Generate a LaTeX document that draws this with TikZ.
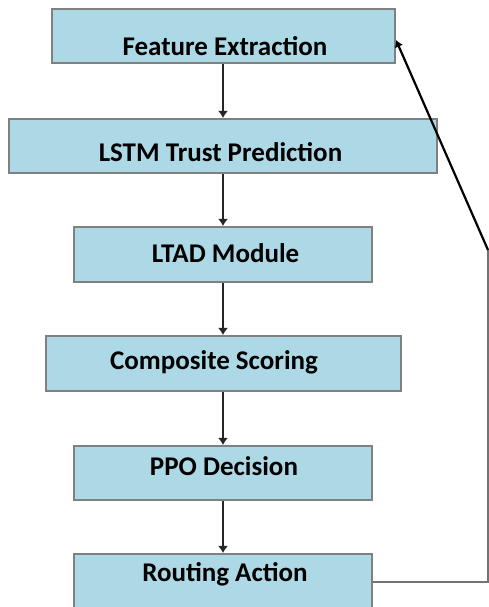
\documentclass[tikz,border=0pt]{standalone}
\usepackage{fontspec}
\setmainfont{Carlito}
\usetikzlibrary{arrows.meta}
\definecolor{boxblue}{RGB}{173,216,230}
\definecolor{boxedge}{RGB}{128,128,128}
\tikzset{
stage/.style={draw=boxedge, line width=2pt, fill=boxblue, inner sep=0pt},
stagetext/.style={anchor=base, inner sep=0pt, font=\bfseries\fontsize{27}{31}\selectfont},
flow/.style={line width=2.4pt, draw=black!85, -{Latex[length=7pt,width=10pt]}},
loopback/.style={line width=1.8pt, draw=black!55}
}
\begin{document}
\begin{tikzpicture}[x=1pt,y=1pt]
\useasboundingbox (0,0) rectangle (489,607);
\node[stage, minimum width=343pt, minimum height=54pt] (fe) at (223.5,571) {};
\node[stage, minimum width=428pt, minimum height=54pt] (lstm) at (223,461) {};
\node[stage, minimum width=298pt, minimum height=55pt] (ltad) at (223,352.5) {};
\node[stage, minimum width=355pt, minimum height=55pt] (comp) at (223.5,243.5) {};
\node[stage, minimum width=298pt, minimum height=54pt] (ppo) at (223,134) {};
\node[stage, minimum width=298pt, minimum height=54pt] (rout) at (223,26) {};
\node[stagetext] (fe-t) at (225,551) {Feature Extraction};
\node[stagetext] (lstm-t) at (220.5,445) {LSTM Trust Prediction};
\node[stagetext] (ltad-t) at (225.5,344) {LTAD Module};
\node[stagetext] (comp-t) at (214,237) {Composite Scoring};
\node[stagetext] (ppo-t) at (224,131) {PPO Decision};
\node[stagetext] (rout-t) at (225,25) {Routing Action};
\draw[flow] (fe.south -| 223,0) -- (lstm.north -| 223,0);
\draw[flow] (lstm.south -| 223,0) -- (ltad.north -| 223,0);
\draw[flow] (ltad.south -| 223,0) -- (comp.north -| 223,0);
\draw[flow] (comp.south -| 223,0) -- (ppo.north -| 223,0);
\draw[flow] (ppo.south -| 223,0) -- (rout.north -| 223,0);
\coordinate (low) at (488,25);
\coordinate (bend) at (488,357);
\draw[loopback] (rout.east |- low) -- (low) -- (bend);
\draw[line width=2.2pt, -{Latex[length=7pt,width=9pt]}] (bend) -- ([yshift=-4pt]fe.east);
\end{tikzpicture}
\end{document}
